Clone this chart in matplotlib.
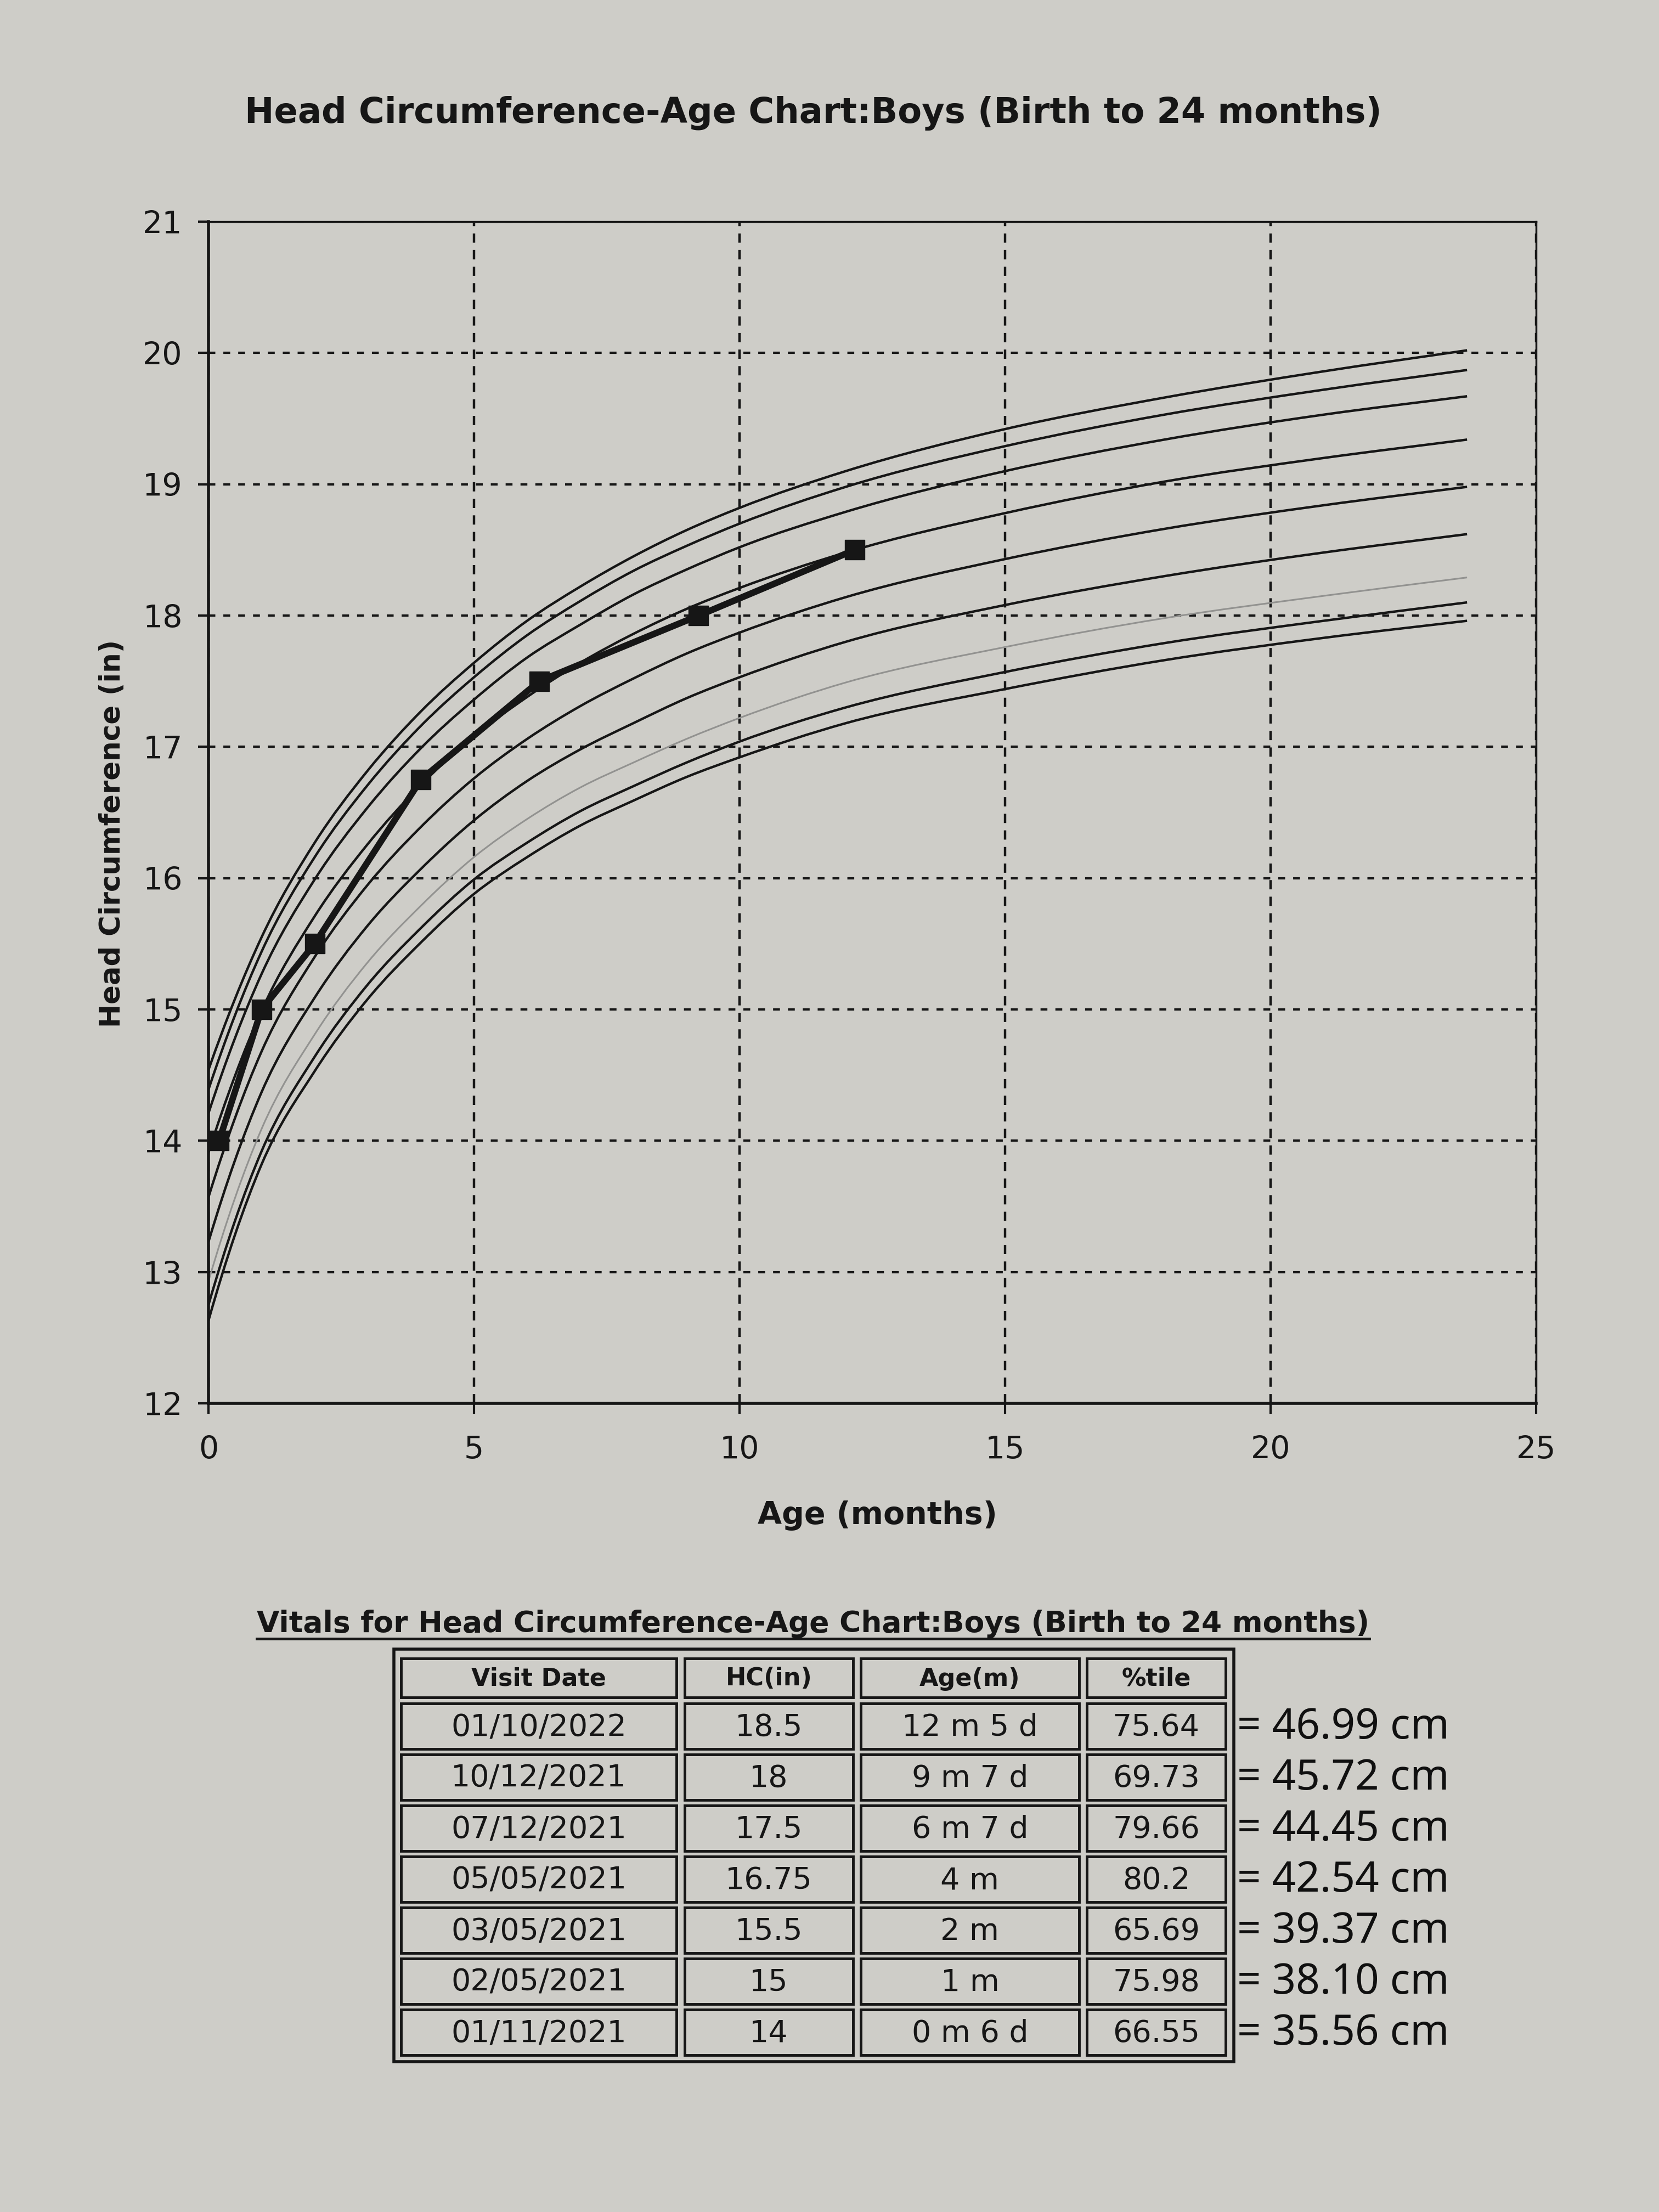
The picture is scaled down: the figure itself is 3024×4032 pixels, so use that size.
import matplotlib
matplotlib.use("Agg")
import matplotlib.pyplot as plt
from matplotlib.path import Path
from matplotlib.patches import PathPatch, Rectangle

paper = '#cecdc8'
ink = '#161616'

## reference percentile curves (inches)
ref_age = [0, 1, 2, 3, 4, 5, 6, 7, 8, 9, 10, 12, 15, 18, 21, 23.7]
p3 = [12.63, 13.82, 14.53, 15.08, 15.51, 15.88, 16.16, 16.40, 16.59, 16.77, 16.92, 17.18, 17.44, 17.66, 17.83, 17.96]
p5 = [12.75, 13.92, 14.64, 15.19, 15.62, 15.99, 16.27, 16.51, 16.70, 16.88, 17.04, 17.30, 17.57, 17.79, 17.96, 18.10]
p10 = [12.93, 14.09, 14.81, 15.36, 15.79, 16.16, 16.45, 16.69, 16.88, 17.06, 17.22, 17.49, 17.76, 17.98, 18.15, 18.29]
p25 = [13.23, 14.37, 15.09, 15.64, 16.07, 16.44, 16.74, 16.98, 17.18, 17.37, 17.53, 17.80, 18.08, 18.30, 18.48, 18.62]
p50 = [13.57, 14.68, 15.40, 15.95, 16.39, 16.76, 17.06, 17.31, 17.52, 17.71, 17.87, 18.14, 18.43, 18.66, 18.84, 18.98]
p75 = [13.91, 14.99, 15.71, 16.26, 16.71, 17.08, 17.38, 17.64, 17.86, 18.05, 18.21, 18.48, 18.78, 19.02, 19.20, 19.34]
p90 = [14.21, 15.27, 15.99, 16.54, 16.99, 17.36, 17.68, 17.93, 18.16, 18.35, 18.52, 18.79, 19.10, 19.34, 19.53, 19.67]
p95 = [14.39, 15.44, 16.16, 16.71, 17.16, 17.53, 17.85, 18.11, 18.34, 18.53, 18.70, 18.98, 19.29, 19.53, 19.72, 19.87]
p97 = [14.54, 15.55, 16.27, 16.82, 17.27, 17.64, 17.96, 18.22, 18.45, 18.65, 18.82, 19.10, 19.42, 19.66, 19.86, 20.02]

## patient visits (table order, newest first)
visit_dates = ['01/10/2022', '10/12/2021', '07/12/2021', '05/05/2021', '03/05/2021', '02/05/2021', '01/11/2021']
hc_in = [18.5, 18, 17.5, 16.75, 15.5, 15, 14]
age_text = ['12 m 5 d', '9 m 7 d', '6 m 7 d', '4 m', '2 m', '1 m', '0 m 6 d']
age_months = [12.17, 9.23, 6.23, 4.0, 2.0, 1.0, 0.2]
pctile = [75.64, 69.73, 79.66, 80.2, 65.69, 75.98, 66.55]
hc_cm = [46.99, 45.72, 44.45, 42.54, 39.37, 38.10, 35.56]

headers = ['Visit Date', 'HC(in)', 'Age(m)', '%tile']


def smooth_path(x, y):
    # smooth line through the points, like the spreadsheet's "smoothed line"
    n = len(x)
    sec = [(y[i + 1] - y[i]) / (x[i + 1] - x[i]) for i in range(n - 1)]
    m = [0.0] * n
    for i in range(1, n - 1):
        m[i] = (sec[i - 1] * (x[i + 1] - x[i]) + sec[i] * (x[i] - x[i - 1])) / (x[i + 1] - x[i - 1])
    m[0] = 2 * sec[0] - m[1]
    m[-1] = sec[-1]
    verts = [(x[0], y[0])]
    codes = [Path.MOVETO]
    for i in range(n - 1):
        h = x[i + 1] - x[i]
        verts += [(x[i] + h / 3, y[i] + m[i] * h / 3),
                  (x[i + 1] - h / 3, y[i + 1] - m[i + 1] * h / 3),
                  (x[i + 1], y[i + 1])]
        codes += [Path.CURVE4] * 3
    return Path(verts, codes)


W, H = 3024, 4032
fig = plt.figure(figsize=(W / 100, H / 100), dpi=100, facecolor=paper)
plt.rcParams['font.family'] = ['DejaVu Sans']

ax = fig.add_axes([380 / W, 1 - 2558 / H, 2420 / W, 2154 / H])
ax.set_facecolor(paper)
ax.set_xlim(0, 25)
ax.set_ylim(12, 21)
ax.set_xticks(range(0, 26, 5))
ax.set_yticks(range(12, 22))
ax.grid(axis='y', color=ink, lw=3, linestyle=(0, (3, 3.5)), zorder=0.5)
ax.grid(axis='x', color=ink, lw=3.2, linestyle=(0, (3.8, 3.0)), zorder=0.5)
ax.set_axisbelow(True)

for c in [p3, p5, p10, p25, p50, p75, p90, p95, p97]:
    if c is p10:
        pp = PathPatch(smooth_path(ref_age, c), fill=False, ec='#929290', lw=2.2, zorder=2)
    else:
        pp = PathPatch(smooth_path(ref_age, c), fill=False, ec=ink, lw=3.2, zorder=2)
    ax.add_patch(pp)

ax.plot(age_months, hc_in, color=ink, lw=8.5, marker='s', markersize=26, zorder=3)

for s in ['left', 'bottom']:
    ax.spines[s].set_linewidth(4)
for s in ['top', 'right']:
    ax.spines[s].set_linewidth(2.5)
for s in ax.spines.values():
    s.set_color(ink)
ax.tick_params(direction='out', length=14, width=3, colors=ink, labelsize=41)
ax.tick_params(axis='y', pad=20)
ax.tick_params(axis='x', pad=28)

ax.set_xlabel('Age (months)', fontsize=41, fontweight='bold', color=ink)
ax.xaxis.set_label_coords(0.504, -0.082)
ax.set_ylabel('Head Circumference (in)', fontsize=37, fontweight='bold', color=ink)
ax.yaxis.set_label_coords(-0.062, 0.482)

fig.text(1482 / W, 1 - 206 / H, 'Head Circumference-Age Chart:Boys (Birth to 24 months)',
         ha='center', va='center', fontsize=46, fontweight='bold', color=ink)

## vitals table, drawn in pixel coordinates
tab = fig.add_axes([0, 0, 1, 1])
tab.set_xlim(0, W)
tab.set_ylim(H, 0)
tab.axis('off')

t = tab.text(1482, 2975, 'Vitals for Head Circumference-Age Chart:Boys (Birth to 24 months)',
             ha='center', va='baseline', fontsize=38.5, fontweight='bold', color=ink)
fig.canvas.draw()
bb = t.get_window_extent().transformed(tab.transData.inverted())
tab.plot([min(bb.x0, bb.x1), max(bb.x0, bb.x1)], [2987, 2987], color=ink, lw=3.5)

tab.add_patch(Rectangle((718, 3006), 1531, 752, fill=False, ec=ink, lw=4))
col_edges = [(731, 1233), (1248, 1555), (1569, 1967), (1981, 2234)]

for (x0, x1), name in zip(col_edges, headers):
    tab.add_patch(Rectangle((x0, 3023), x1 - x0, 71, fill=False, ec=ink, lw=3.5))
    tab.text((x0 + x1) / 2, 3060, name, ha='center', va='center',
             fontsize=32, fontweight='bold', color=ink)

for i in range(len(visit_dates)):
    y0 = 3105 + i * 93
    row = [visit_dates[i], f'{hc_in[i]:g}', age_text[i], f'{pctile[i]:g}']
    for (x0, x1), txt in zip(col_edges, row):
        tab.add_patch(Rectangle((x0, y0), x1 - x0, 83, fill=False, ec=ink, lw=3.5))
        tab.text((x0 + x1) / 2, y0 + 44, txt, ha='center', va='center', fontsize=40, color=ink)
    # handwritten conversion beside each row
    tab.text(2255, y0 + 44, f'= {hc_cm[i]:.2f} cm', ha='left', va='center',
             fontsize=55, family=['Noto Sans', 'DejaVu Sans'], fontweight='medium', color='#101010')

fig.savefig('out.png', dpi=100, facecolor=fig.get_facecolor())
